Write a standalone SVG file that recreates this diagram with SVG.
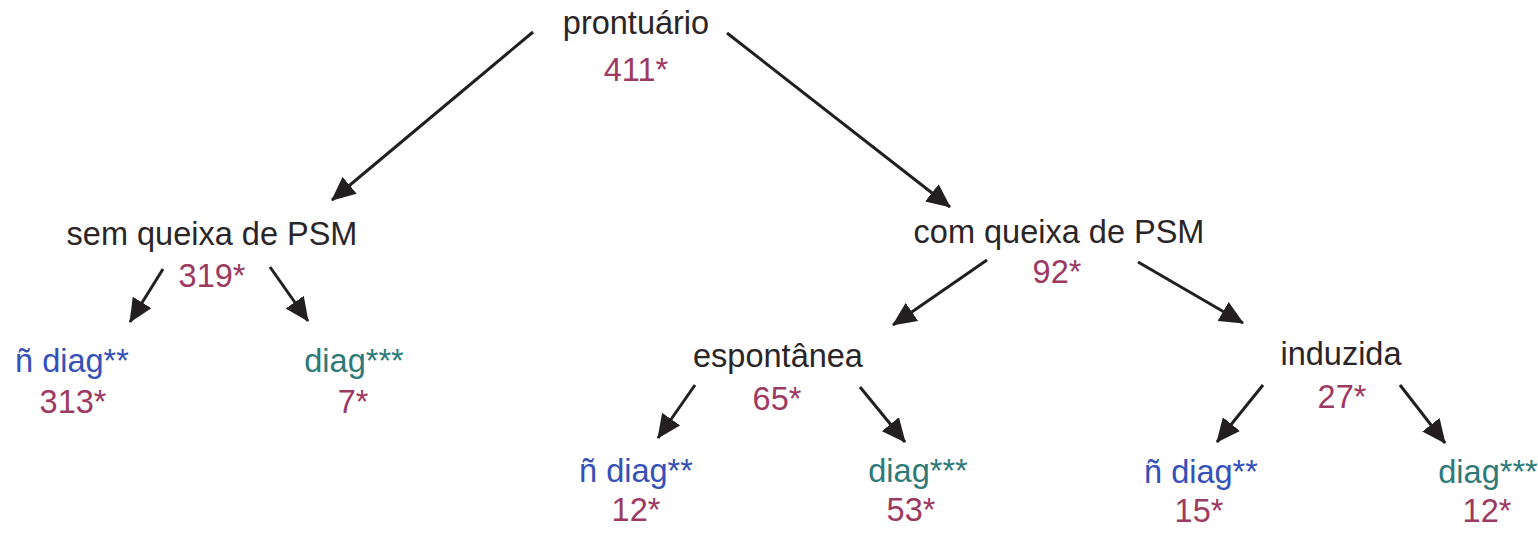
<svg xmlns="http://www.w3.org/2000/svg" width="1538" height="548" viewBox="0 0 1538 548">
<style>
text{font-family:"Liberation Sans",Arial,sans-serif;font-size:32.5px;text-anchor:middle}
.lbl{fill:#2a2527}
.num{fill:#9c3a62}
.nd{fill:#3550b8}
.dg{fill:#2e7a78}
.edge{stroke:#231f20;stroke-width:3;fill:none;marker-end:url(#ah)}
</style>
<defs>
<marker id="ah" markerUnits="userSpaceOnUse" markerWidth="24" markerHeight="22" viewBox="0 0 24 22" refX="23" refY="11" orient="auto">
<path d="M0,0 L24,11 L0,22 Z" fill="#231f20"/>
</marker>
</defs>
<rect width="1538" height="548" fill="#ffffff"/>
<g id="connectors">
<line class="edge" x1="533" y1="32" x2="332" y2="200"/>
<line class="edge" x1="727" y1="33" x2="950" y2="207"/>
<line class="edge" x1="163" y1="269" x2="130" y2="322"/>
<line class="edge" x1="270" y1="267" x2="308" y2="321"/>
<line class="edge" x1="987" y1="260" x2="893" y2="325"/>
<line class="edge" x1="1138" y1="262" x2="1243" y2="323"/>
<line class="edge" x1="695" y1="385" x2="658" y2="438"/>
<line class="edge" x1="860" y1="387" x2="905" y2="442"/>
<line class="edge" x1="1263" y1="385" x2="1217" y2="442"/>
<line class="edge" x1="1400" y1="385" x2="1445" y2="443"/>
</g>
<g id="prontuario"><text class="lbl" x="636" y="34">prontuário</text><text class="num" x="636" y="81">411*</text></g>
<g id="sem"><text class="lbl" x="212" y="245">sem queixa de PSM</text><text class="num" x="212" y="287">319*</text></g>
<g id="sem-ndiag"><text class="nd" x="72" y="372">ñ diag**</text><text class="num" x="73" y="413">313*</text></g>
<g id="sem-diag"><text class="dg" x="354" y="372">diag***</text><text class="num" x="353" y="413">7*</text></g>
<g id="com"><text class="lbl" x="1059" y="243">com queixa de PSM</text><text class="num" x="1057" y="283">92*</text></g>
<g id="espontanea"><text class="lbl" x="778" y="367">espontânea</text><text class="num" x="777" y="410">65*</text></g>
<g id="esp-ndiag"><text class="nd" x="636" y="482">ñ diag**</text><text class="num" x="636" y="521">12*</text></g>
<g id="esp-diag"><text class="dg" x="918" y="482">diag***</text><text class="num" x="911" y="521">53*</text></g>
<g id="induzida"><text class="lbl" x="1341" y="365">induzida</text><text class="num" x="1342" y="408">27*</text></g>
<g id="ind-ndiag"><text class="nd" x="1201" y="483">ñ diag**</text><text class="num" x="1199" y="522">15*</text></g>
<g id="ind-diag"><text class="dg" x="1488" y="483">diag***</text><text class="num" x="1487" y="522">12*</text></g>
</svg>
